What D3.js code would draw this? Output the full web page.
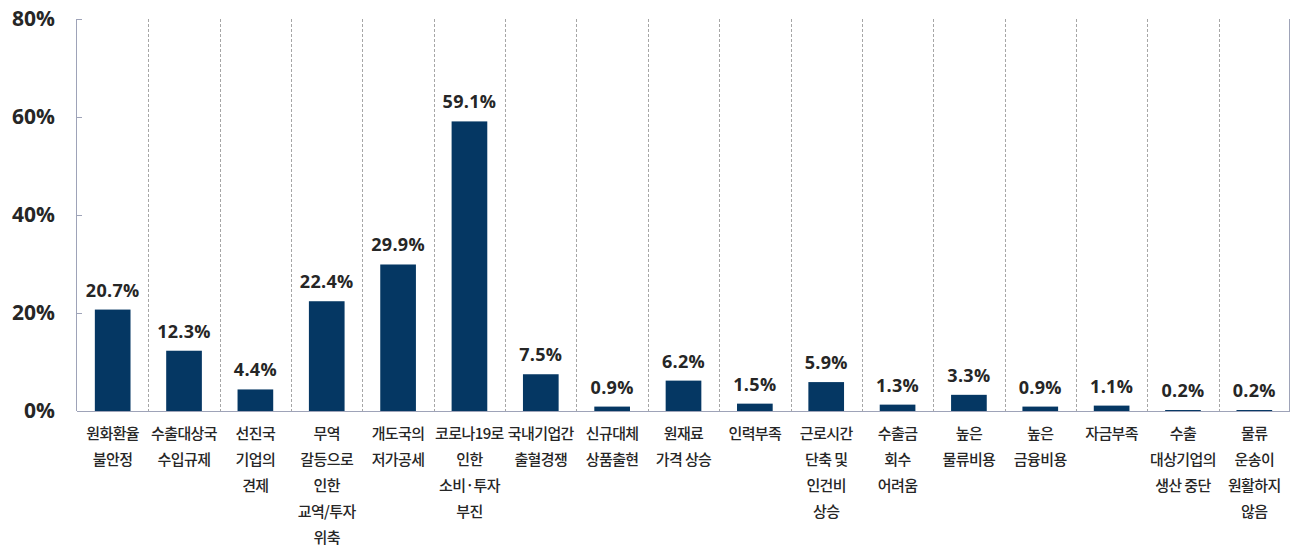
<!DOCTYPE html>
<html>
<head>
<meta charset="utf-8">
<script src="https://cdn.jsdelivr.net/npm/d3@7"></script>
<style>
  html, body { margin: 0; padding: 0; background: #ffffff; }
  svg { display: block; }
</style>
</head>
<body>
<svg id="chart" width="1292" height="549"></svg>
<script>
// Category labels (one array entry per line of the wrapped label)
const categories = [
  ["원화환율", "불안정"],
  ["수출대상국", "수입규제"],
  ["선진국", "기업의", "견제"],
  ["무역", "갈등으로", "인한", "교역/투자", "위축"],
  ["개도국의", "저가공세"],
  ["코로나19로", "인한", "소비·투자", "부진"],
  ["국내기업간", "출혈경쟁"],
  ["신규대체", "상품출현"],
  ["원재료", "가격 상승"],
  ["인력부족"],
  ["근로시간", "단축 및", "인건비", "상승"],
  ["수출금", "회수", "어려움"],
  ["높은", "물류비용"],
  ["높은", "금융비용"],
  ["자금부족"],
  ["수출", "대상기업의", "생산 중단"],
  ["물류", "운송이", "원활하지", "않음"]
];
// Share of respondents (%)
const values = [20.7, 12.3, 4.4, 22.4, 29.9, 59.1, 7.5, 0.9, 6.2, 1.5, 5.9, 1.3, 3.3, 0.9, 1.1, 0.2, 0.2];
// Y axis ticks
const yTicks = [0, 20, 40, 60, 80];

const W = 1292, H = 549;
const margin = { top: 19, right: 2, bottom: 138, left: 77 };
const innerW = W - margin.left - margin.right;
const innerH = H - margin.top - margin.bottom;

const svg = d3.select("#chart");
const g = svg.append("g").attr("transform", `translate(${margin.left},${margin.top})`);

const idx = d3.range(values.length);
const x = d3.scaleBand().domain(idx).range([0, innerW]).paddingInner(0).paddingOuter(0);
const y = d3.scaleLinear().domain([0, 80]).range([innerH, 0]);

const numFont = "'Open Sans', 'Noto Sans', sans-serif";
const krFont = "'Noto Sans CJK KR', 'Noto Sans', sans-serif";

// Dashed separators between categories
g.append("g")
  .selectAll("line")
  .data(idx.slice(1))
  .join("line")
  .attr("x1", d => Math.round(x(d)) + 0.5)
  .attr("x2", d => Math.round(x(d)) + 0.5)
  .attr("y1", 0)
  .attr("y2", innerH)
  .attr("stroke", "#a6a6a6")
  .attr("stroke-width", 1)
  .attr("stroke-dasharray", "3,2");

// Right frame line
g.append("line")
  .attr("x1", innerW - 0.5).attr("x2", innerW - 0.5)
  .attr("y1", 0).attr("y2", innerH)
  .attr("stroke", "#9ea3b8").attr("stroke-width", 1);

// Bars
g.append("g")
  .selectAll("rect")
  .data(idx)
  .join("rect")
  .attr("x", d => x(d) + x.bandwidth() * 0.25)
  .attr("width", x.bandwidth() * 0.5)
  .attr("y", d => y(values[d]))
  .attr("height", d => innerH - y(values[d]))
  .attr("fill", "#053763");

// Value labels
g.append("g")
  .selectAll("text")
  .data(idx)
  .join("text")
  .attr("x", d => x(d) + x.bandwidth() / 2)
  .attr("y", d => y(values[d]) - 13)
  .attr("text-anchor", "middle")
  .attr("font-family", numFont)
  .attr("font-weight", 700)
  .attr("font-size", 18)
  .attr("letter-spacing", 0.3)
  .attr("fill", "#262626")
  .text(d => values[d].toFixed(1) + "%");

// Y axis
const yAxis = g.append("g")
  .call(d3.axisLeft(y).tickValues(yTicks).tickSize(-5).tickPadding(22).tickFormat(d => d + "%"));
yAxis.select(".domain").attr("stroke", "#9ea3b8").attr("d", `M-0.5,0V${innerH}`);
yAxis.selectAll(".tick line").attr("stroke", "#9ea3b8");
yAxis.selectAll(".tick text")
  .attr("font-family", numFont)
  .attr("font-weight", 700)
  .attr("font-size", 21)
  .attr("fill", "#262626");

// X axis baseline
g.append("line")
  .attr("x1", 0).attr("x2", innerW)
  .attr("y1", innerH + 0.5).attr("y2", innerH + 0.5)
  .attr("stroke", "#9ea3b8").attr("stroke-width", 1);

// Category labels
const lab = g.append("g")
  .selectAll("text")
  .data(idx)
  .join("text")
  .attr("text-anchor", "middle")
  .attr("font-family", krFont)
  .attr("font-weight", 500)
  .attr("font-size", 15)
  .attr("letter-spacing", -0.6)
  .attr("fill", "#262626");
lab.each(function(d) {
  const t = d3.select(this);
  categories[d].forEach((line, i) => {
    t.append("tspan")
      .attr("x", x(d) + x.bandwidth() / 2)
      .attr("y", innerH + 28 + i * 26)
      .text(line);
  });
});
</script>
</body>
</html>
